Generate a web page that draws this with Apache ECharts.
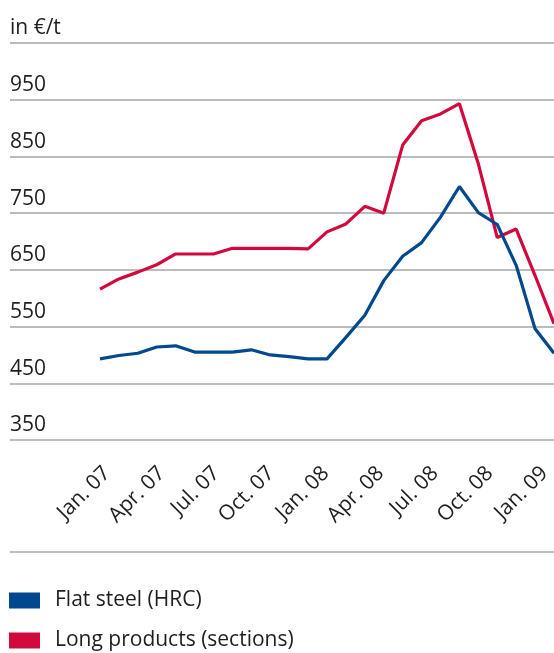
<!DOCTYPE html>
<html>
<head>
<meta charset="utf-8">
<script src="https://cdn.jsdelivr.net/npm/echarts@6/dist/echarts.min.js"></script>
<style>
html, body { margin: 0; padding: 0; background: #fff; }
#chart { width: 554px; height: 653px; }
</style>
</head>
<body>
<div id="chart"></div>
<script>
// monthly prices, Jan 07 .. Jan 09
const months = ['Jan. 07', 'Feb. 07', 'Mar. 07', 'Apr. 07', 'May 07', 'Jun. 07', 'Jul. 07', 'Aug. 07', 'Sep. 07',
    'Oct. 07', 'Nov. 07', 'Dec. 07', 'Jan. 08', 'Feb. 08', 'Mar. 08', 'Apr. 08', 'May 08', 'Jun. 08',
    'Jul. 08', 'Aug. 08', 'Sep. 08', 'Oct. 08', 'Nov. 08', 'Dec. 08', 'Jan. 09'];
const flatSteel = [493, 499, 503, 514, 516, 505, 505, 505, 509, 500, 497, 493, 493,
    531, 570, 631, 674, 698, 743, 797, 751, 730, 658, 546, 503];
const longProducts = [616, 634, 646, 659, 678, 678, 678, 688, 688, 688, 688, 687, 717,
    731, 762, 750, 870, 913, 925, 943, 837, 707, 722, 640, 555];
// shown tick labels
const xTickLabels = ['Jan. 07', 'Apr. 07', 'Jul. 07', 'Oct. 07', 'Jan. 08', 'Apr. 08', 'Jul. 08', 'Oct. 08', 'Jan. 09'];
const yTickValues = [350, 450, 550, 650, 750, 850, 950, 1050];
const yTickLabels = ['350', '450', '550', '650', '750', '850', '950', 'in €/t'];
const seriesNames = ['Flat steel (HRC)', 'Long products (sections)'];

const blue = '#00498f';
const red = '#d2093c';
const textColor = '#1e1e1e';
const font = '"Open Sans", "Noto Sans", sans-serif';

const myChart = echarts.init(document.getElementById('chart'));

function legendItem(name, top) {
    return {
        left: 4, top: top,
        icon: 'rect', itemWidth: 31, itemHeight: 16,
        data: [name],
        textStyle: {fontSize: 21, fontFamily: font, color: textColor, padding: [0, 0, 0, 10]}
    };
}

const option = {
    animation: false,
    grid: [
        {left: 10, right: 0, top: 43, bottom: 213},   // grid lines + y labels
        {left: 100, right: 0, top: 43, bottom: 213},  // data
        {left: 107, right: 3, top: 43, bottom: 213}   // rotated month labels
    ],
    xAxis: [
        {gridIndex: 0, type: 'value', show: false, min: 0, max: 1},
        {gridIndex: 1, type: 'category', boundaryGap: false, data: months, show: false},
        {
            gridIndex: 2, type: 'category', boundaryGap: false, data: xTickLabels,
            axisLine: {show: false}, axisTick: {show: false},
            axisLabel: {
                interval: 0, rotate: 45, margin: 30,
                fontSize: 21, fontFamily: font, color: textColor
            }
        }
    ],
    yAxis: [
        {
            gridIndex: 0, type: 'value', min: 350, max: 1050, interval: 100,
            axisLine: {show: false}, axisTick: {show: false},
            splitLine: {lineStyle: {color: '#a6a6a6', width: 1.5}},
            axisLabel: {
                inside: true, margin: 0, verticalAlign: 'bottom', padding: [0, 0, 4, 0],
                fontSize: 21, fontFamily: font, color: textColor,
                formatter: function (v) {
                    const i = yTickValues.indexOf(v);
                    return i >= 0 ? yTickLabels[i] : '';
                }
            }
        },
        {gridIndex: 1, type: 'value', min: 350, max: 1050, show: false},
        {gridIndex: 2, type: 'value', min: 350, max: 1050, show: false}
    ],
    legend: [
        legendItem(seriesNames[0], 585),
        legendItem(seriesNames[1], 625)
    ],
    graphic: [
        {
            type: 'line', shape: {x1: 10, y1: 552, x2: 554, y2: 552},
            style: {stroke: '#a6a6a6', lineWidth: 1.5}
        }
    ],
    series: [
        {
            name: seriesNames[1], type: 'line', xAxisIndex: 1, yAxisIndex: 1,
            data: longProducts, symbol: 'none', color: red,
            lineStyle: {width: 3.2, color: red}
        },
        {
            name: seriesNames[0], type: 'line', xAxisIndex: 1, yAxisIndex: 1,
            data: flatSteel, symbol: 'none', color: blue,
            lineStyle: {width: 3.2, color: blue}
        }
    ]
};
myChart.setOption(option);
</script>
</body>
</html>
